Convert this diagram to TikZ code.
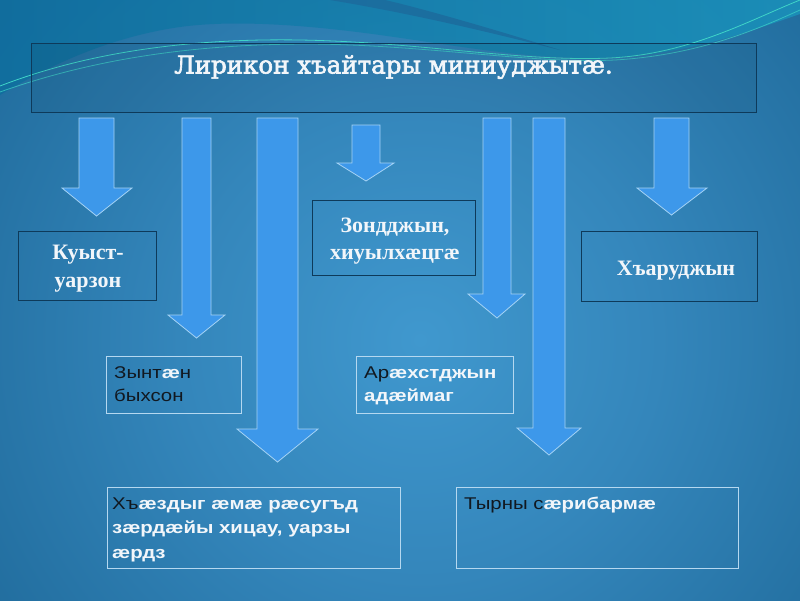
\documentclass[tikz,border=0pt]{standalone}
\usepackage{fontspec}
\setmainfont{Liberation Serif}
\newfontfamily\titlefont[FakeBold=2.5]{DejaVu Serif}
\newfontfamily\boxfont{Liberation Serif}
\newfontfamily\sansw[FakeStretch=1.2]{Liberation Sans}
\definecolor{bgA}{HTML}{4098CE}
\definecolor{bgB}{HTML}{3486BB}
\definecolor{bgC}{HTML}{226E9F}
\definecolor{bgD}{HTML}{16578A}
\definecolor{bgE}{HTML}{0E4570}
\definecolor{tealA}{HTML}{0F6E9E}
\definecolor{tealB}{HTML}{1A92BB}
\definecolor{swooshc}{HTML}{1C6A9C}
\definecolor{cyanl}{HTML}{3FD4C8}
\definecolor{arrowfill}{HTML}{3D98EA}
\definecolor{arrowline}{HTML}{A5D3F5}
\definecolor{darkline}{HTML}{0E3A5A}
\definecolor{lightline}{HTML}{B5D8F0}
\definecolor{txtdark}{HTML}{111820}
\definecolor{txtwhite}{HTML}{F2F6FA}
\pgfdeclareradialshading{bgshade}{\pgfpoint{0bp}{0bp}}{color(0bp)=(bgA); color(12bp)=(bgB); color(25bp)=(bgC); color(40bp)=(bgD); color(50bp)=(bgE)}
\newcommand{\blockarrow}[7]{%
  \draw[arrowshape] (#1,#3) -- (#2,#3) -- (#2,#4) -- (#6,#4) -- ({(#1+#2)/2},#7) -- (#5,#4) -- (#1,#4) -- cycle;}
\tikzset{
  arrowshape/.style={fill=arrowfill, draw=arrowline, line width=0.8pt, line join=miter},
  darkbox/.style={draw=darkline, line width=1pt, rectangle, inner sep=0pt},
  lightbox/.style={draw=lightline, line width=1pt, rectangle, inner sep=0pt},
  titletext/.style={font=\titlefont\fontsize{24.5}{28}\selectfont, text=txtwhite, inner sep=0pt},
  seriftext/.style={font=\boxfont\bfseries\fontsize{22}{28}\selectfont, text=txtwhite, inner sep=0pt, anchor=base},
  sanstext/.style={font=\sansw\fontsize{17}{24}\selectfont, inner sep=0pt, anchor=base west},
  cyanline/.style={draw=cyanl, line width=0.8pt},
}
\newcommand{\wt}[1]{\textcolor{txtwhite}{\bfseries #1}}
\newcommand{\dk}[1]{\textcolor{txtdark}{#1}}
\begin{document}
\begin{tikzpicture}[x=1pt,y=-1pt]
\useasboundingbox (0,0) rectangle (800,600);
\begin{scope}
\clip (0,0) rectangle (800,600);
\shade[shading=bgshade] (-80,-160) rectangle (920,840);
% top decoration
\shade[left color=tealA, right color=tealB, opacity=0.85] (0,0) -- (800,0) -- (800,14) .. controls (740,35) and (690,52) .. (620,57) .. controls (540,62) and (460,46) .. (380,35) .. controls (300,24) and (230,20) .. (180,27) .. controls (110,37) and (50,65) .. (0,95) -- cycle;
\fill[swooshc, opacity=0.8] (330,0) .. controls (420,15) and (500,35) .. (560,50) .. controls (490,28) and (420,8) .. (385,0) -- cycle;
\draw[cyanline] (0,86) .. controls (80,55) and (180,38) .. (300,40) .. controls (420,42) and (520,62) .. (610,58) .. controls (690,54) and (750,20) .. (800,0);
\draw[cyanline, opacity=0.7] (0,92) .. controls (90,60) and (190,44) .. (310,44) .. controls (430,45) and (530,64) .. (615,60) .. controls (700,55) and (760,28) .. (800,10);
\end{scope}
% title box
\node[darkbox, fill=black, fill opacity=0.06, minimum width=725pt, minimum height=69pt] (title) at (393.5,77.5) {};
\node[titletext, anchor=base] (titletxt) at (393.5,73.5) {Лирикон хъайтары миниуджытæ.};
% block arrows
\blockarrow{79}{114}{118}{188}{62}{132}{216}
\blockarrow{182}{211}{118}{315}{168}{225}{338}
\blockarrow{257}{298}{118}{429}{237}{318}{462}
\blockarrow{352}{380}{125}{163}{337}{394}{181}
\blockarrow{483}{511}{118}{294}{468}{525}{318}
\blockarrow{533}{565}{118}{428}{517}{581}{455}
\blockarrow{654}{689}{118}{188}{637}{707}{215}
% dark boxes
\node[darkbox, minimum width=138pt, minimum height=69pt] (kuyst) at (87,265.5) {};
\node[seriftext] (kuyst1) at (88,259) {Куыст-};
\node[seriftext] (kuyst2) at (88,287) {уарзон};
\node[darkbox, minimum width=163pt, minimum height=75pt] (zond) at (393.5,237.5) {};
\node[seriftext] (zond1) at (395,232) {Зондджын,};
\node[seriftext] (zond2) at (395,259) {хиуылхæцгæ};
\node[darkbox, minimum width=176pt, minimum height=70pt] (khar) at (669,266) {};
\node[seriftext] (khar1) at (676,275) {Хъаруджын};
% light boxes
\node[lightbox, minimum width=135pt, minimum height=57pt] (zynt) at (173.5,384.5) {};
\node[sanstext] (zynt1) at (114,378) {\dk{Зынт}\wt{æ}\dk{н}};
\node[sanstext] (zynt2) at (114,401) {\dk{быхсон}};
\node[lightbox, minimum width=157pt, minimum height=57pt] (arae) at (434.5,384.5) {};
\node[sanstext] (arae1) at (364,378) {\dk{Ар}\wt{æхстджын}};
\node[sanstext] (arae2) at (364,401) {\wt{адæймаг}};
\node[lightbox, minimum width=293pt, minimum height=81pt] (khaez) at (253.5,527.5) {};
\node[sanstext] (khaez1) at (112,509) {\dk{Хъ}\wt{æздыг æмæ рæсугъд}};
\node[sanstext] (khaez2) at (112,533.5) {\wt{зæрдæйы хицау, уарзы}};
\node[sanstext] (khaez3) at (112,558) {\wt{æрдз}};
\node[lightbox, minimum width=282pt, minimum height=81pt] (tyrn) at (597,527.5) {};
\node[sanstext] (tyrn1) at (464,509) {\dk{Тырны с}\wt{æрибармæ}};
\end{tikzpicture}
\end{document}
